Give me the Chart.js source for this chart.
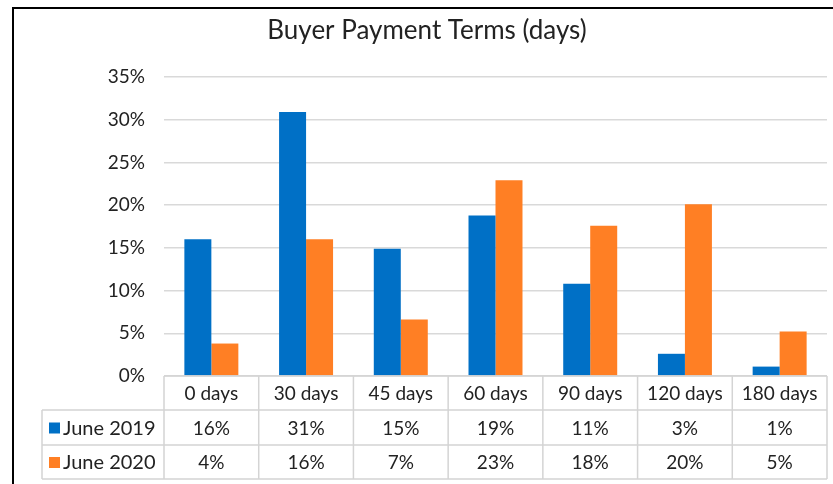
<!DOCTYPE html>
<html>
<head>
<meta charset="utf-8">
<script src="https://cdn.jsdelivr.net/npm/chart.js@4.4.1/dist/chart.umd.min.js"></script>
<style>
  html, body { margin: 0; padding: 0; background: #fff; }
  #wrap { width: 833px; height: 484px; position: relative; }
</style>
</head>
<body>
<div id="wrap"><canvas id="c" width="833" height="484"></canvas></div>
<script>
const categories = ['0 days', '30 days', '45 days', '60 days', '90 days', '120 days', '180 days'];
const seriesNames = ['June 2019', 'June 2020'];
const june2019 = [16.0, 30.9, 14.9, 18.8, 10.8, 2.6, 1.1];
const june2020 = [3.8, 16.0, 6.6, 22.9, 17.6, 20.1, 5.2];
const yTicks = [0, 5, 10, 15, 20, 25, 30, 35];
const chartTitle = 'Buyer Payment Terms (days)';
const colors = ['#0070C6', '#FF7F24'];
const FONT = 'Lato, "Open Sans", sans-serif';
const TEXT = '#222222';

const tablePlugin = {
  id: 'dataTable',
  beforeDraw(chart) {
    const ctx = chart.ctx;
    ctx.save();
    ctx.fillStyle = '#fff';
    ctx.fillRect(0, 0, chart.width, chart.height);
    ctx.fillStyle = '#000';
    ctx.fillRect(12, 7, 2, chart.height - 7);
    ctx.fillRect(12, 7, chart.width - 12, 2);
    ctx.restore();
  },
  afterDraw(chart) {
    const ctx = chart.ctx;
    const x = chart.scales.x;
    const area = chart.chartArea;
    const n = categories.length;
    const colW = (area.right - area.left) / n;
    const top = area.bottom;
    const rowH = [34, 35, 34];
    const y0 = top, y1 = y0 + rowH[0], y2 = y1 + rowH[1], y3 = y2 + rowH[2];
    const legendLeft = 42;
    ctx.save();
    // title
    ctx.fillStyle = TEXT;
    ctx.font = '26px ' + FONT;
    ctx.textAlign = 'center';
    ctx.textBaseline = 'middle';
    ctx.fillText(chartTitle, 427, 31);

    ctx.strokeStyle = '#d4d4d4';
    ctx.lineWidth = 1.5;
    ctx.beginPath();
    ctx.moveTo(area.left, y0); ctx.lineTo(area.right, y0);
    ctx.moveTo(legendLeft, y1); ctx.lineTo(area.right, y1);
    ctx.moveTo(legendLeft, y2); ctx.lineTo(area.right, y2);
    ctx.moveTo(legendLeft, y3); ctx.lineTo(area.right, y3);
    ctx.moveTo(legendLeft, y1); ctx.lineTo(legendLeft, y3);
    for (let i = 0; i <= n; i++) {
      const xx = area.left + i * colW;
      ctx.moveTo(xx, y0); ctx.lineTo(xx, y3);
    }
    ctx.stroke();

    ctx.fillStyle = TEXT;
    ctx.font = '19px ' + FONT;
    ctx.textAlign = 'center';
    ctx.textBaseline = 'middle';
    const rows = [june2019, june2020];
    categories.forEach((c, i) => {
      const cx = x.getPixelForValue(i);
      ctx.fillText(c, cx, (y0 + y1) / 2 + 1);
      rows.forEach((r, k) => {
        const yy = k === 0 ? (y1 + y2) / 2 : (y2 + y3) / 2;
        ctx.fillText(Math.round(r[i]) + '%', cx, yy + 1);
      });
    });
    ctx.textAlign = 'left';
    seriesNames.forEach((s, k) => {
      const yy = k === 0 ? (y1 + y2) / 2 : (y2 + y3) / 2;
      ctx.fillStyle = colors[k];
      ctx.fillRect(49, yy - 5, 11, 11);
      ctx.fillStyle = TEXT;
      ctx.font = '20px ' + FONT;
      ctx.fillText(s, 63, yy + 1);
    });
    ctx.restore();
  }
};

new Chart(document.getElementById('c'), {
  type: 'bar',
  data: {
    labels: categories,
    datasets: [
      { label: seriesNames[0], data: june2019, backgroundColor: colors[0] },
      { label: seriesNames[1], data: june2020, backgroundColor: colors[1] }
    ]
  },
  options: {
    responsive: false,
    animation: false,
    devicePixelRatio: 1,
    layout: { padding: { left: 0, right: 6, top: 77, bottom: 108 } },
    datasets: { bar: { categoryPercentage: 0.57, barPercentage: 1.0 } },
    plugins: {
      legend: { display: false },
      tooltip: { enabled: false },
      title: { display: false }
    },
    scales: {
      x: { display: false },
      y: {
        min: 0, max: 35,
        afterBuildTicks(scale) { scale.ticks = yTicks.map(v => ({ value: v })); },
        afterFit(scale) { scale.width = 164; },
        border: { display: false },
        grid: { color: '#d9d9d9', lineWidth: 1.5, drawTicks: false },
        ticks: {
          padding: 19,
          color: TEXT,
          font: { family: FONT, size: 19 },
          callback: v => v + '%'
        }
      }
    }
  },
  plugins: [tablePlugin]
});
</script>
</body>
</html>
